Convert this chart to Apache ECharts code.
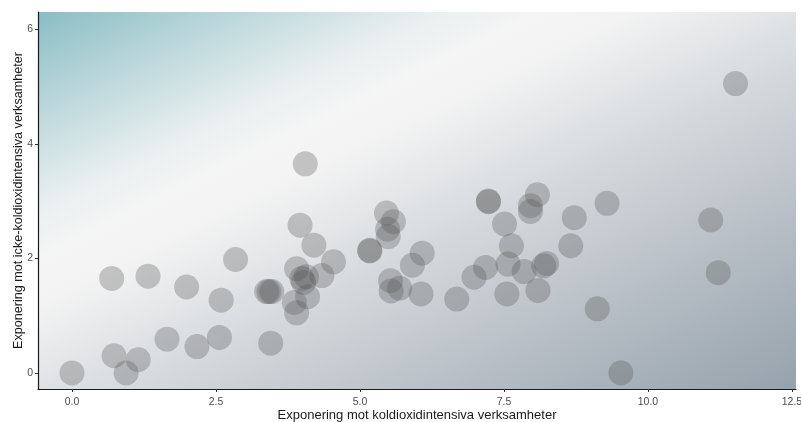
<!DOCTYPE html>
<html>
<head>
<meta charset="utf-8">
<script src="https://cdn.jsdelivr.net/npm/echarts@6/dist/echarts.min.js"></script>
<style>
html,body{margin:0;padding:0;background:#fff;}
#chart{width:801px;height:422px;}
</style>
</head>
<body>
<div id="chart"></div>
<script>
var xTitle = 'Exponering mot koldioxidintensiva verksamheter';
var yTitle = 'Exponering mot icke-koldioxidintensiva verksamheter';
var xTicks = [0, 2.5, 5, 7.5, 10, 12.5];
var yTicks = [0, 2, 4, 6];
var xValues = [0.00,0.69,1.32,1.99,2.84,2.59,3.38,3.47,3.42,1.65,2.17,2.56,3.45,0.73,1.15,0.94,
  4.05,3.96,4.20,4.54,3.90,4.34,3.99,4.07,4.09,3.86,3.90,4.02,
  5.46,5.58,5.48,5.49,5.17,5.17,6.08,5.91,5.53,5.54,5.69,6.06,
  6.68,6.98,7.18,7.23,7.23,7.51,7.63,7.57,7.55,7.85,8.09,8.19,8.24,8.08,7.96,7.96,
  8.72,8.66,9.29,9.12,11.52,11.09,11.22,9.53];
var yValues = [0.00,1.65,1.69,1.50,1.98,1.27,1.42,1.42,1.42,0.59,0.46,0.62,0.52,0.30,0.23,0.00,
  3.65,2.58,2.23,1.94,1.82,1.70,1.65,1.68,1.33,1.23,1.05,1.58,
  2.79,2.64,2.51,2.38,2.13,2.14,2.09,1.88,1.61,1.43,1.48,1.38,
  1.29,1.67,1.84,2.99,3.00,2.60,2.22,1.90,1.38,1.77,1.44,1.87,1.91,3.11,2.92,2.82,
  2.71,2.22,2.96,1.12,5.05,2.67,1.75,0.00];

var points = xValues.map(function(x, i){ return [x, yValues[i]]; });

var chart = echarts.init(document.getElementById('chart'), null, {renderer:'canvas'});
var fontFam = '"Liberation Sans", Arial, sans-serif';
chart.setOption({
  animation: false,
  backgroundColor: '#ffffff',
  grid: {
    left: 38, right: 5, top: 12, bottom: 33,
    containLabel: false, outerBoundsMode: 'none',
    show: true, borderWidth: 0,
    backgroundColor: new echarts.graphic.LinearGradient(0, 0, 0.394, 1.604, [
      {offset: 0, color: 'rgb(138,189,196)'},
      {offset: 0.12, color: 'rgb(183,213,217)'},
      {offset: 0.26, color: 'rgb(233,239,240)'},
      {offset: 0.33, color: 'rgb(245,245,245)'},
      {offset: 0.39, color: 'rgb(243,243,243)'},
      {offset: 0.56, color: 'rgb(214,218,222)'},
      {offset: 0.76, color: 'rgb(184,191,198)'},
      {offset: 1, color: 'rgb(150,162,172)'}
    ])
  },
  xAxis: {
    type: 'value', min: -0.59, max: 12.57,
    name: xTitle, nameLocation: 'middle', nameGap: 20, nameMoveOverlap: false,
    nameTextStyle: {fontSize: 13, color: '#1a1a1a', fontFamily: fontFam},
    axisLine: {show: true, onZero: false, lineStyle: {color: '#1a1a1a', width: 1.2}},
    axisTick: {show: true, length: 3, customValues: xTicks, lineStyle: {color: '#333'}},
    axisLabel: {customValues: xTicks, fontSize: 10.5, color: '#4d4d4d', margin: 8, fontFamily: fontFam,
      formatter: function(v){ return v.toFixed(1); }},
    splitLine: {show: false}
  },
  yAxis: {
    type: 'value', min: -0.28, max: 6.3,
    name: yTitle, nameLocation: 'middle', nameGap: 13, nameMoveOverlap: false,
    nameTextStyle: {fontSize: 12.6, color: '#1a1a1a', fontFamily: fontFam},
    axisLine: {show: true, onZero: false, lineStyle: {color: '#1a1a1a', width: 1.2}},
    axisTick: {show: true, length: 3, customValues: yTicks, lineStyle: {color: '#333'}},
    axisLabel: {customValues: yTicks, fontSize: 10.5, color: '#4d4d4d', margin: 5, fontFamily: fontFam,
      formatter: function(v){ return String(v); }},
    splitLine: {show: false}
  },
  series: [{
    type: 'scatter',
    data: points,
    symbolSize: 25,
    itemStyle: {color: 'rgba(85,85,85,0.38)'}
  }]
});
</script>
</body>
</html>
